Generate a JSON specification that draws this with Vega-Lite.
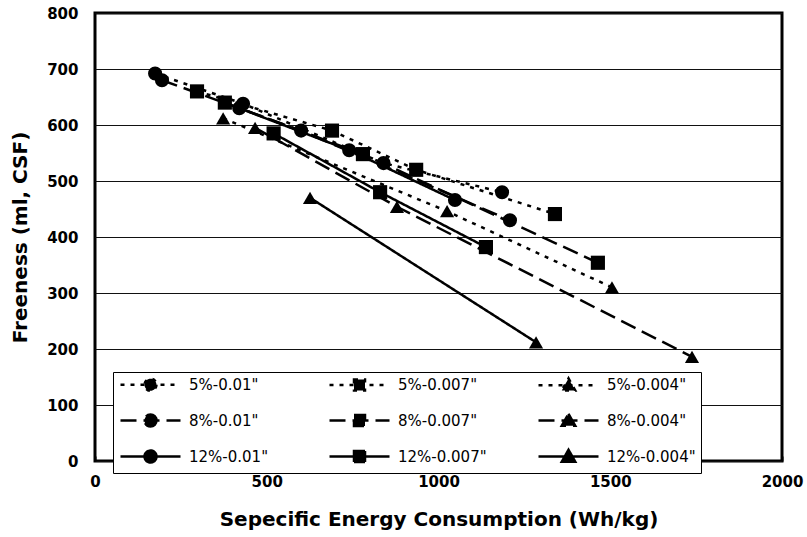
{
  "$schema": "https://vega.github.io/schema/vega-lite/v6.json",
  "width": 687,
  "height": 448,
  "autosize": {"type": "none"},
  "padding": {"left": 95, "top": 13, "right": 25, "bottom": 76},
  "background": "white",
  "config": {
    "view": {"stroke": "black", "strokeWidth": 3},
    "axis": {
      "labelFont": "DejaVu Sans", "labelFontSize": 15, "labelFontWeight": "bold", "labelColor": "black",
      "titleFont": "DejaVu Sans", "titleFontSize": 20, "titleFontWeight": "bold", "titleColor": "black",
      "domain": false
    }
  },
  "data": {
    "values": [
      {"series": "5%-0.01\"", "energy": 175, "freeness": 692},
      {"series": "5%-0.01\"", "energy": 431, "freeness": 638},
      {"series": "5%-0.01\"", "energy": 840, "freeness": 532},
      {"series": "5%-0.01\"", "energy": 1185, "freeness": 480},
      {"series": "8%-0.01\"", "energy": 195, "freeness": 680},
      {"series": "8%-0.01\"", "energy": 600, "freeness": 590},
      {"series": "8%-0.01\"", "energy": 1208, "freeness": 430},
      {"series": "12%-0.01\"", "energy": 420, "freeness": 630},
      {"series": "12%-0.01\"", "energy": 740, "freeness": 555},
      {"series": "12%-0.01\"", "energy": 1048, "freeness": 466},
      {"series": "5%-0.007\"", "energy": 297, "freeness": 660},
      {"series": "5%-0.007\"", "energy": 690, "freeness": 590},
      {"series": "5%-0.007\"", "energy": 935, "freeness": 520},
      {"series": "5%-0.007\"", "energy": 1339, "freeness": 441},
      {"series": "8%-0.007\"", "energy": 378, "freeness": 640},
      {"series": "8%-0.007\"", "energy": 780, "freeness": 548},
      {"series": "8%-0.007\"", "energy": 1464, "freeness": 354},
      {"series": "12%-0.007\"", "energy": 520, "freeness": 585},
      {"series": "12%-0.007\"", "energy": 830, "freeness": 480},
      {"series": "12%-0.007\"", "energy": 1138, "freeness": 382},
      {"series": "5%-0.004\"", "energy": 373, "freeness": 612},
      {"series": "5%-0.004\"", "energy": 1025, "freeness": 446},
      {"series": "5%-0.004\"", "energy": 1505, "freeness": 310},
      {"series": "8%-0.004\"", "energy": 466, "freeness": 595},
      {"series": "8%-0.004\"", "energy": 879, "freeness": 454},
      {"series": "8%-0.004\"", "energy": 1738, "freeness": 186},
      {"series": "12%-0.004\"", "energy": 626, "freeness": 470},
      {"series": "12%-0.004\"", "energy": 1284, "freeness": 212}
    ]
  },
  "encoding": {
    "x": {
      "field": "energy", "type": "quantitative",
      "scale": {"domain": [0, 2000], "nice": false},
      "axis": {
        "title": "Sepecific Energy Consumption (Wh/kg)",
        "values": [0, 500, 1000, 1500, 2000],
        "format": "d",
        "grid": false, "labelFlush": false,
        "ticks": true, "tickSize": -5, "tickColor": "black", "tickWidth": 2,
        "labelPadding": 18, "titlePadding": 20
      }
    },
    "y": {
      "field": "freeness", "type": "quantitative",
      "scale": {"domain": [0, 800], "nice": false},
      "axis": {
        "title": "Freeness (ml, CSF)",
        "values": [0, 100, 200, 300, 400, 500, 600, 700, 800],
        "grid": true, "gridColor": "#111", "gridWidth": 1, "gridOpacity": 1,
        "labelFlush": false, "ticks": false,
        "labelPadding": 17, "titlePadding": 16
      }
    }
  },
  "layer": [
    {
      "mark": {"type": "line", "color": "black", "strokeWidth": 2.5, "strokeCap": "butt"},
      "encoding": {
        "strokeDash": {
          "field": "series", "type": "nominal",
          "sort": ["5%-0.01\"", "5%-0.007\"", "5%-0.004\"", "8%-0.01\"", "8%-0.007\"", "8%-0.004\"", "12%-0.01\"", "12%-0.007\"", "12%-0.004\""],
          "scale": {
            "range": [[4, 6], [4, 6], [4, 6], [16, 7], [16, 7], [16, 7], [1, 0], [1, 0], [1, 0]]
          },
          "legend": {
            "title": null,
            "orient": "none",
            "direction": "horizontal",
            "legendX": 18,
            "legendY": 359,
            "columns": 3,
            "gridAlign": "all",
            "columnPadding": 46,
            "rowPadding": 12,
            "padding": 5,
            "strokeColor": "black",
            "fillColor": "white",
            "symbolType": "M-6,0L6,0",
            "symbolSize": 100,
            "symbolStrokeWidth": 2.5,
            "symbolStrokeColor": "black",
            "symbolFillColor": "black",
            "symbolOffset": 25,
            "labelOffset": 31,
            "labelFont": "DejaVu Sans",
            "labelFontSize": 15,
            "labelColor": "black",
            "labelLimit": 300,
            "encode": {
              "symbols": {
                "update": {
                  "shape": {"signal": "indexof(datum.value,'0.007')>=0 ? 'M-6,0L6,0M-1.1,-1.1L1.1,-1.1L1.1,1.1L-1.1,1.1Z' : indexof(datum.value,'0.004')>=0 ? 'M-6,0L6,0M0,-1.35L1.35,1.05L-1.35,1.05Z' : 'M-6,0L6,0M1.2,0A1.2,1.2,0,1,1,-1.2,0A1.2,1.2,0,1,1,1.2,0Z'"},
                  "fill": {"value": "black"},
                  "stroke": {"value": "black"},
                  "strokeWidth": {"value": 2.5},
                  "opacity": {"value": 1}
                }
              }
            }
          }
        },
        "order": {"field": "energy", "type": "quantitative"}
      }
    },
    {
      "transform": [{"filter": {"field": "series", "oneOf": ["5%-0.01\"", "8%-0.01\"", "12%-0.01\""]}}],
      "mark": {"type": "point", "shape": "circle", "filled": true, "color": "black", "opacity": 1, "size": 200}
    },
    {
      "transform": [{"filter": {"field": "series", "oneOf": ["5%-0.007\"", "8%-0.007\"", "12%-0.007\""]}}],
      "mark": {"type": "point", "shape": "square", "filled": true, "color": "black", "opacity": 1, "size": 200}
    },
    {
      "transform": [{"filter": {"field": "series", "oneOf": ["5%-0.004\"", "8%-0.004\"", "12%-0.004\""]}}],
      "mark": {"type": "point", "shape": "triangle-up", "filled": true, "color": "black", "opacity": 1, "size": 200}
    }
  ]
}
